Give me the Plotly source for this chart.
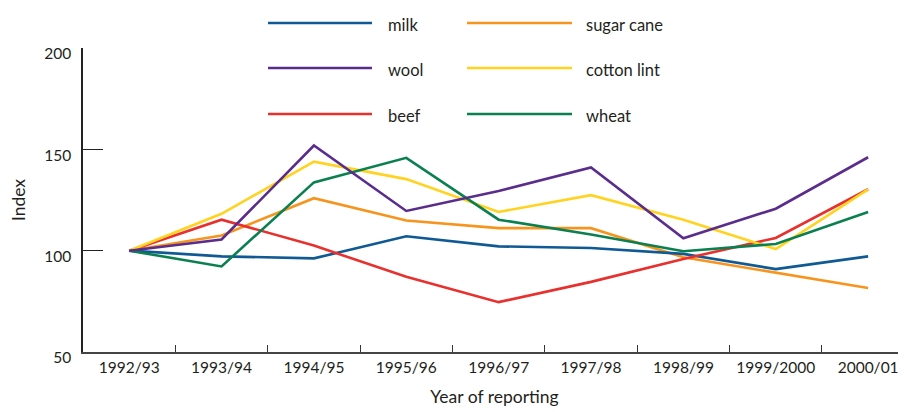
import plotly.graph_objects as go

YEARS = ['1992/93', '1993/94', '1994/95', '1995/96', '1996/97',
         '1997/98', '1998/99', '1999/2000', '2000/01']

MILK = [100, 97.2, 96.2, 107.1, 102.1, 101.3, 98.4, 90.9, 97.2]
WOOL = [100, 105.5, 151.9, 119.6, 129.4, 141.1, 106.1, 120.7, 146.1]
BEEF = [100, 115.3, 102.5, 87.1, 74.6, 84.6, 95.9, 106.3, 130.3]
SUGAR_CANE = [100, 107.5, 125.9, 114.9, 111.1, 111.1, 96.7, 89.2, 81.6]
COTTON_LINT = [100, 118.2, 143.9, 135.3, 119.1, 127.4, 115.3, 100.8, 130.2]
WHEAT = [100, 92.2, 133.7, 145.8, 115.3, 108.0, 99.7, 103.3, 119.1]

Y_TICKS = [50, 100, 150, 200]

COLOR_MILK = '#0f5a94'
COLOR_WOOL = '#5a2d8c'
COLOR_BEEF = '#e8302e'
COLOR_SUGAR = '#f7941d'
COLOR_COTTON = '#ffd320'
COLOR_WHEAT = '#0a8050'

FONT = 'Lato'
TEXT_COLOR = '#231f20'

# drawing order: later ones on top
series = [
    ('sugar cane', SUGAR_CANE, COLOR_SUGAR),
    ('milk', MILK, COLOR_MILK),
    ('beef', BEEF, COLOR_BEEF),
    ('cotton lint', COTTON_LINT, COLOR_COTTON),
    ('wheat', WHEAT, COLOR_WHEAT),
    ('wool', WOOL, COLOR_WOOL),
]

fig = go.Figure()
for name, vals, color in series:
    fig.add_trace(go.Scatter(x=YEARS, y=vals, name=name, mode='lines',
                             line=dict(color=color, width=2.6),
                             showlegend=False))

# page body has an 8px margin, so the figure is drawn from (8, 8)
OFF = 8
W, H = 906 - OFF, 412 - OFF
ML, MR, MT, MB = 83 - OFF, 0, 48 - OFF, 60
pw, ph = W - ML - MR, H - MT - MB

# hand-made legend: long line keys in two columns above the plot
legend_items = [
    ('milk', COLOR_MILK, 0, 0), ('sugar cane', COLOR_SUGAR, 1, 0),
    ('wool', COLOR_WOOL, 0, 1), ('cotton lint', COLOR_COTTON, 1, 1),
    ('beef', COLOR_BEEF, 0, 2), ('wheat', COLOR_WHEAT, 1, 2),
]
col_x = [(268, 372, 386), (467, 572, 584)]
row_y = [23, 68, 114]
for label, color, c, r in legend_items:
    x0, x1, xt = col_x[c]
    yp = 1 + (48 - row_y[r]) / ph
    fig.add_shape(type='line', xref='paper', yref='paper',
                  x0=(x0 - 83) / pw, x1=(x1 - 83) / pw, y0=yp, y1=yp,
                  line=dict(color=color, width=2.6))
    fig.add_annotation(xref='paper', yref='paper', x=(xt - 83) / pw, y=yp,
                       text=label, showarrow=False, xanchor='left', yanchor='middle',
                       yshift=-2,
                       font=dict(family=FONT, size=16.5, color=TEXT_COLOR))

fig.update_layout(
    width=W, height=H,
    margin=dict(l=ML, r=MR, t=MT, b=MB),
    paper_bgcolor='white', plot_bgcolor='white',
    font=dict(family=FONT, size=15.5, color=TEXT_COLOR),
)
fig.update_xaxes(
    type='category', range=[-0.5, 8.41],
    tickson='boundaries', ticks='inside', ticklen=7, tickwidth=1, tickcolor='#333',
    showline=True, linecolor='#444', linewidth=2,
    showgrid=False, zeroline=False,
    title=dict(text='Year of reporting', font=dict(size=17.5), standoff=16),
)
fig.update_yaxes(
    range=[50, 200], tickvals=Y_TICKS,
    ticks='inside', ticklen=20, tickwidth=1.3, tickcolor='#222',
    showline=True, linecolor='#222', linewidth=1.5,
    showgrid=False, zeroline=False, ticklabelstandoff=7, ticklabelshift=6,
    title=dict(text='Index', font=dict(size=17.5), standoff=16),
)

fig.write_html("out.html")
